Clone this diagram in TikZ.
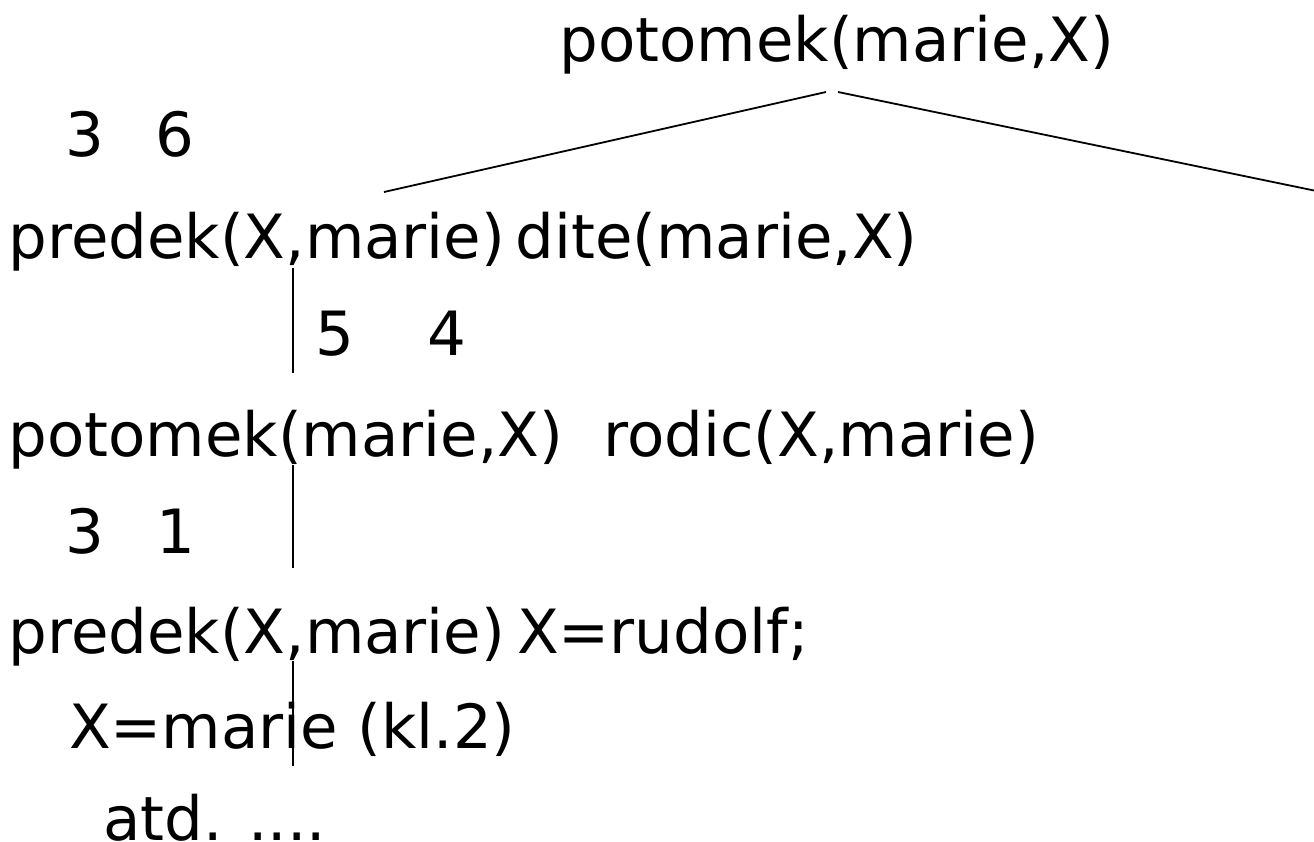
\documentclass[tikz,border=0pt]{standalone}
\usepackage{fontspec}
\setmainfont{DejaVu Sans}
\begin{document}
\begin{tikzpicture}[x=1pt,y=-1pt,
  term/.style={inner sep=0pt, outer sep=0pt, anchor=base west,
    font=\fontsize{61}{61}\selectfont},
  edge/.style={line width=1.8pt, black}]
\useasboundingbox (0,0) rectangle (1314,842);

% goals of the derivation tree, line by line
\node[term] (root)  at (559.5,62)  {potomek(marie,X)};
\node[term] (c3a)   at (65,157)    {3};
\node[term] (c6)    at (155,157)   {6};
\node[term] (pred1) at (8.5,259)   {predek(X,marie)};
\node[term] (dite)  at (515.5,259) {dite(marie,X)};
\node[term] (c5)    at (315,355)   {5};
\node[term] (c4)    at (427,355)   {4};
\node[term] (pot2)  at (8.5,456)   {potomek(marie,X)};
\node[term] (rodic) at (603.5,456) {rodic(X,marie)};
\node[term] (c3b)   at (65,553)    {3};
\node[term] (c1)    at (156,553)   {1};
\node[term] (pred2) at (8.5,653)   {predek(X,marie)};
\node[term] (rud)   at (517,653)   {X=rudolf;};
\node[term] (mar)   at (69,748)    {X=marie (kl.2)};
\node[term] (atd)   at (103,840)   {atd. ....};

% ends of the branches
\coordinate (rootL) at (826,92);
\coordinate (rootR) at (838,92);
\coordinate (leftEnd) at (384,192);
\coordinate (rightEnd) at (1314,190.5);
\coordinate (v1a) at (293,268);
\coordinate (v1b) at (293,373);
\coordinate (v2a) at (293,465);
\coordinate (v2b) at (293,568);
\coordinate (v3a) at (293,661);
\coordinate (v3b) at (293,766);

\draw[edge] (rootL) -- (leftEnd);
\draw[edge] (rootR) -- (rightEnd);
\draw[edge] (v1a) -- (v1b);
\draw[edge] (v2a) -- (v2b);
\draw[edge] (v3a) -- (v3b);
\end{tikzpicture}
\end{document}
